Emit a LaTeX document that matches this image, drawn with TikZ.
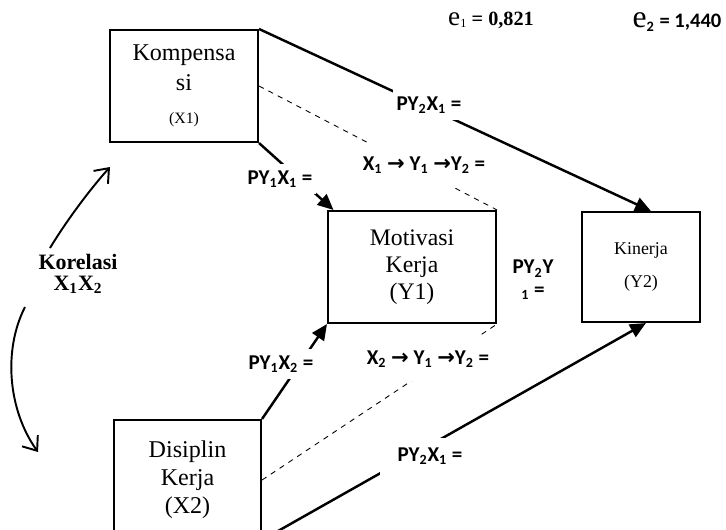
\documentclass[tikz,border=0pt]{standalone}
\usepackage{fontspec}
\setmainfont{Liberation Serif}
\newfontfamily\calibri{Carlito}
\newfontfamily\arrowfont{DejaVu Sans}
\usetikzlibrary{arrows.meta}
\tikzset{mybox/.style={draw,line width=1.2pt,align=center,inner sep=0pt},
mylabel/.style={fill=white,inner xsep=2pt,inner ysep=4pt,font=\calibri\bfseries\fontsize{12}{13}\selectfont},
mypath/.style={line width=1.4pt,-{Triangle[length=9pt,width=8pt]}},
mydashed/.style={dashed,line width=0.5pt},
mycurve/.style={line width=1.1pt,-{Straight Barb[length=7pt,width=11pt]}}}
\newcommand{\ar}{{\arrowfont\bfseries →}}

\begin{document}
\begin{tikzpicture}[x=0.02cm,y=-0.02cm]
\clip (0,0) rectangle (726,529);
% boxes
\node[mybox,minimum width=2.96cm,minimum height=2.24cm,font=\fontsize{13.7}{17}\selectfont] (komp) at (184,86) {Kompensa\\si\\[2pt]{\fontsize{9}{10}\selectfont (X1)}};
\node[mybox,minimum width=3.36cm,minimum height=2.24cm,font=\fontsize{13.5}{15.4}\selectfont] (motiv) at (412,267) {Motivasi\\Kerja\\(Y1)};
\node[mybox,minimum width=2.36cm,minimum height=2.2cm,font=\fontsize{10.2}{18.8}\selectfont] (kin) at (641,267) {Kinerja\\(Y2)};
\node[mybox,minimum width=2.94cm,minimum height=2.4cm,font=\fontsize{13.7}{16}\selectfont] (disc) at (187.5,480) {Disiplin\\Kerja\\(X2)};
% paths
\draw[mypath] (komp.north east) -- (kin.80);
\draw[mypath] (komp.south east) -- (motiv.144);
\draw[mypath] (disc.north east) -- (motiv.south west);
\draw[mypath] (disc.-40) -- (kin.-85);
\draw[mydashed] (komp.east) -- (motiv.north east);
\draw[mydashed] (disc.east) -- (motiv.south east);
% korelasi
\coordinate (ka) at (50,248);
\coordinate (kt) at (110,167);
\coordinate (kb) at (25,307);
\coordinate (kd) at (38,452);
\draw[mycurve] (ka) .. controls (62,228) and (85,195) .. (kt);
\draw[mycurve] (kb) .. controls (3,350) and (8,410) .. (kd);
\node[align=center,inner sep=1pt,font=\bfseries\fontsize{12.5}{11.5}\selectfont] (kor) at (78,274) {Korelasi\\X\textsubscript{1}X\textsubscript{2}};
% labels
\node[mylabel] (l1) at (429,105) {PY\textsubscript{2}X\textsubscript{1} =};
\node[mylabel] (l2) at (280,179) {PY\textsubscript{1}X\textsubscript{1} =};
\node[mylabel] (l3) at (281,364) {PY\textsubscript{1}X\textsubscript{2} =};
\node[mylabel,inner ysep=8pt] (l4) at (424,165) {X\textsubscript{1} \ar{} Y\textsubscript{1} \ar Y\textsubscript{2} =};
\node[mylabel,inner ysep=8pt] (l5) at (428,359) {X\textsubscript{2} \ar{} Y\textsubscript{1} \ar Y\textsubscript{2} =};
\node[mylabel,minimum width=2cm,minimum height=0.74cm] (l6) at (430,456) {PY\textsubscript{2}X\textsubscript{1} =};
\node[mylabel,fill=none,inner sep=1pt,align=center,font=\calibri\bfseries\fontsize{12}{13}\selectfont] (l7) at (533,280) {PY\textsubscript{2}Y\\\textsubscript{1} =};
% error terms
\node (e1) at (491,20) {{\fontsize{15.5}{15}\selectfont e}\textsubscript{1} \textbf{\fontsize{11.5}{12}\selectfont = 0,821}};
\node (e2) at (677,22) {{\fontsize{18}{16}\selectfont e}{\calibri\bfseries\fontsize{11.7}{12}\selectfont\textsubscript{2} = 1,440}};
\end{tikzpicture}
\end{document}
